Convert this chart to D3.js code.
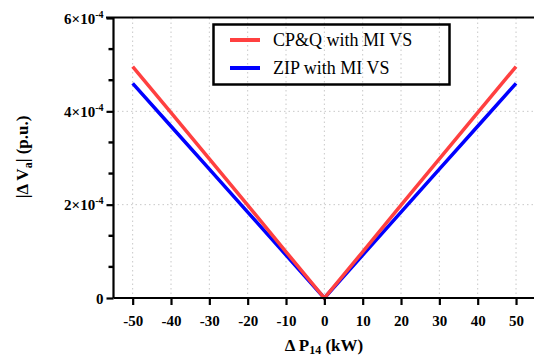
<!DOCTYPE html>
<html><head><meta charset="utf-8">
<script src="https://cdn.jsdelivr.net/npm/d3@7"></script>
<style>body{margin:0;background:#fff;overflow:hidden}svg{display:block}
svg text{font-family:"Liberation Serif","Times New Roman","DejaVu Serif",serif !important;}</style>
</head><body>
<script>
const xValues = [-50,-40,-30,-20,-10,0,10,20,30,40,50];
const cpqValues = [4.96e-4,3.97e-4,2.98e-4,1.99e-4,0.99e-4,0,0.99e-4,1.99e-4,2.98e-4,3.97e-4,4.96e-4];
const zipValues = [4.60e-4,3.68e-4,2.76e-4,1.84e-4,0.92e-4,0,0.92e-4,1.84e-4,2.76e-4,3.68e-4,4.60e-4];
const xTicks = [-50,-40,-30,-20,-10,0,10,20,30,40,50];
const yMajor = [0,2e-4,4e-4,6e-4];
const yTickLabels = ["0","2×10","4×10","6×10"];
const yMinor = [0.6667e-4,1.3333e-4,2.6667e-4,3.3333e-4,4.6667e-4,5.3333e-4];
const seriesNames = ["CP&Q with MI VS","ZIP with MI VS"];
const seriesColors = ["#ff4040","#0000ff"];

const W=534,H=359;
const svg=d3.select("body").append("svg").attr("width",W).attr("height",H);
const x=d3.scaleLinear().domain([-55,55]).range([113.5,535.2]);
const y=d3.scaleLinear().domain([0,6e-4]).range([298,18]);

// grid
const g=svg.append("g");
g.selectAll("line.vg").data(xTicks).join("line")
 .attr("x1",d=>x(d)).attr("x2",d=>x(d)).attr("y1",y(6e-4)).attr("y2",y(0))
 .attr("stroke","#c8c8c8").attr("stroke-width",1).attr("stroke-dasharray","1.5,3");
g.selectAll("line.hg").data([2e-4,4e-4]).join("line")
 .attr("x1",113).attr("x2",W).attr("y1",d=>y(d)).attr("y2",d=>y(d))
 .attr("stroke","#c8c8c8").attr("stroke-width",1).attr("stroke-dasharray","1.5,3");

// lines
const line=d3.line().x(d=>x(d[0])).y(d=>y(d[1]));
const series=[cpqValues,zipValues];
[1,0].forEach(i=>{
  svg.append("path").datum(xValues.map((v,j)=>[v,series[i][j]]))
   .attr("d",line).attr("fill","none").attr("stroke",seriesColors[i]).attr("stroke-width",3.5)
   .attr("stroke-linejoin","miter");
});

// axes
const xAxis=svg.append("g").attr("transform",`translate(0,${y(0)})`)
 .call(d3.axisBottom(x).tickValues(xTicks).tickSize(7).tickPadding(10).tickFormat(d=>String(d)));
const yAxis=svg.append("g").attr("transform",`translate(${x(-55)},0)`)
 .call(d3.axisLeft(y).tickValues(yMajor).tickSize(7).tickPadding(3).tickFormat((d,i)=>yTickLabels[i]));
// minor ticks
svg.append("g").selectAll("line").data(yMinor).join("line")
 .attr("x1",x(-55)-5).attr("x2",x(-55)).attr("y1",d=>y(d)).attr("y2",d=>y(d))
 .attr("stroke","#000").attr("stroke-width",2.4);
[xAxis,yAxis].forEach(a=>{
  a.select(".domain").attr("stroke","#000").attr("stroke-width",2.2);
});
svg.selectAll(".tick line").attr("stroke","#000").attr("stroke-width",2.2);
svg.selectAll(".tick text").attr("font-weight","bold").attr("font-size",15).attr("fill","#000");
xAxis.select(".domain").attr("d",`M${x(-55)},0H${W}`);
yAxis.select(".domain").attr("d",`M0,${y(6e-4)}V${y(0)}`);
// superscripts on y labels
yAxis.selectAll(".tick text").each(function(d){
  if(d!==0){d3.select(this).append("tspan").attr("dy",-6).attr("font-size",10).text("-4");}
});
yAxis.selectAll(".tick text").attr("dy","0.35em");
// top frame
svg.append("line").attr("x1",106).attr("x2",W).attr("y1",y(6e-4)-0.5).attr("y2",y(6e-4)-0.5)
 .attr("stroke","#000").attr("stroke-width",2.2);

// legend
svg.append("rect").attr("x",213.5).attr("y",24.5).attr("width",236).attr("height",60)
 .attr("fill","none").attr("stroke","#000").attr("stroke-width",2.5);
seriesNames.forEach((n,i)=>{
  const yy=40+i*28;
  svg.append("line").attr("x1",230).attr("x2",260).attr("y1",yy).attr("y2",yy)
   .attr("stroke",seriesColors[i]).attr("stroke-width",4);
  svg.append("text").attr("x",273).attr("y",yy+6)
   .attr("font-size",18).attr("fill","#000").text(n);
});

// axis titles
const xt=svg.append("text").attr("x",324).attr("y",351).attr("text-anchor","middle")
 .attr("font-weight","bold").attr("font-size",17).attr("fill","#000");
xt.append("tspan").text("Δ P");
xt.append("tspan").attr("font-size",12).attr("dy",3).text("14");
xt.append("tspan").attr("dy",-3).text(" (kW)");

const yt=svg.append("text").attr("transform","translate(28,157) rotate(-90)").attr("text-anchor","middle")
 .attr("font-weight","bold").attr("font-size",17).attr("fill","#000");
yt.append("tspan").text("|Δ V");
yt.append("tspan").attr("font-size",12).attr("dy",4).text("a");
yt.append("tspan").attr("dy",-4).text("| (p.u.)");
</script>
</body></html>
